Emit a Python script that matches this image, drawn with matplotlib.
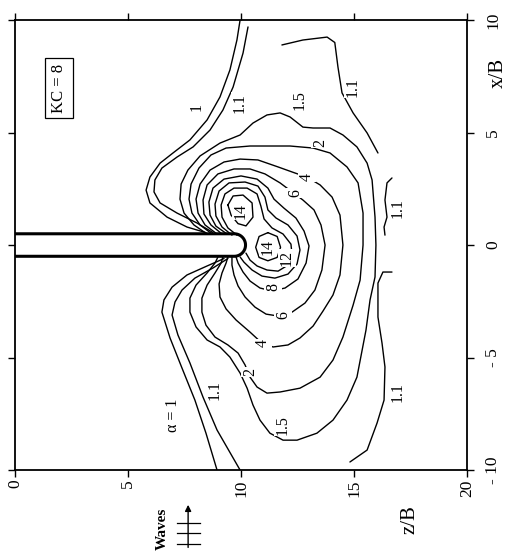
import numpy as np
import matplotlib

matplotlib.use("Agg")

import matplotlib.pyplot as plt

plt.rcParams["font.family"] = ["Liberation Serif", "DejaVu Serif"]

# traced contour lines of the amplification factor, points are (z/B, x/B)
alpha_1_upper = [(9.96, 10.0), (9.82, 9.11), (9.51, 7.78), (9.07, 6.58), (8.5, 5.56), (7.74, 4.67),
                 (6.99, 4.09), (6.42, 3.64), (5.97, 3.02), (5.8, 2.44), (5.97, 1.87), (6.73, 1.24),
                 (7.61, 0.8), (8.45, 0.55)]
alpha_1_lower = [(9.25, -0.6), (8.5, -0.93), (7.61, -1.33), (6.95, -1.87), (6.59, -2.44), (6.5, -2.98),
                 (6.86, -4.13), (7.39, -5.47), (7.96, -6.89), (8.45, -8.36), (8.94, -10.0)]
alpha_11_upper = [(10.31, 9.69), (10.09, 8.53), (9.65, 7.02), (9.2, 6.0), (8.63, 5.11), (7.88, 4.36),
                  (7.17, 3.91), (6.5, 3.42), (6.19, 2.89), (6.15, 2.36), (6.42, 1.87), (7.17, 1.42),
                  (8.05, 0.98), (8.75, 0.56)]
alpha_11_lower = [(9.42, -0.6), (8.76, -1.02), (7.96, -1.47), (7.39, -2.0), (7.08, -2.53), (6.95, -3.11),
                  (7.21, -4.0), (7.74, -5.24), (8.32, -6.76), (8.94, -8.22), (9.96, -10.0)]
alpha_11_top_right = [(11.81, 8.89), (12.74, 9.11), (13.81, 9.24), (14.15, 9.0), (14.29, 7.91), (14.47, 6.76),
                      (14.96, 5.87), (15.58, 4.98), (16.06, 4.09)]
alpha_11_mid_right = [(16.68, 2.98), (16.46, 2.76), (16.37, 2.0), (16.46, 1.24), (16.33, 0.8), (16.37, 0.44)]
alpha_11_low_right = [(16.68, -1.2), (16.28, -1.2), (16.06, -1.69), (16.06, -3.2), (16.24, -4.36),
                      (16.37, -5.42), (16.33, -6.89), (16.02, -7.91), (15.58, -9.11), (14.82, -9.64)]
alpha_15 = [(8.5, 0.49), (7.92, 0.89), (7.48, 1.42), (7.3, 2.04), (7.35, 2.71), (7.65, 3.33), (8.19, 3.96),
            (9.07, 4.53), (9.96, 4.89), (10.53, 5.42), (11.15, 5.78), (11.73, 5.87), (12.17, 5.69),
            (12.74, 5.24), (13.19, 5.2), (13.94, 5.2), (14.51, 4.89), (15.13, 4.36), (15.58, 3.64),
            (15.8, 2.89), (15.93, 1.24), (15.97, 0.0), (15.93, -1.42), (15.71, -2.44), (15.53, -3.78),
            (15.13, -5.87), (14.69, -6.89), (14.07, -7.78), (13.36, -8.36), (12.48, -8.67), (11.86, -8.67),
            (11.28, -8.36), (10.84, -7.78), (10.53, -7.11), (10.27, -6.36), (9.96, -5.69), (9.51, -4.98),
            (9.07, -4.53), (8.5, -4.22), (8.01, -3.64), (7.74, -2.98), (7.74, -2.36), (8.01, -1.78),
            (8.5, -1.24), (8.85, -0.8), (8.98, -0.53)]
alpha_2 = [(8.72, 0.49), (8.19, 0.89), (7.83, 1.42), (7.7, 2.04), (7.79, 2.71), (8.14, 3.42), (8.67, 4.0),
           (9.34, 4.31), (10.4, 4.4), (12.17, 4.4), (13.19, 4.31), (13.94, 4.09), (14.69, 3.47),
           (15.18, 2.76), (15.4, 1.42), (15.4, 0.0), (15.27, -1.56), (14.96, -2.67), (14.51, -4.09),
           (14.07, -5.11), (13.5, -5.87), (12.61, -6.36), (11.73, -6.53), (11.15, -6.58), (10.71, -6.31),
           (10.4, -5.87), (10.18, -5.33), (9.87, -4.8), (9.42, -4.44), (8.85, -4.09), (8.45, -3.56),
           (8.27, -2.98), (8.27, -2.36), (8.5, -1.78), (8.85, -1.24), (9.12, -0.8), (9.2, -0.53)]
alpha_4 = [(8.94, 0.49), (8.41, 0.89), (8.1, 1.42), (8.01, 2.04), (8.19, 2.71), (8.63, 3.33), (9.25, 3.69),
           (9.96, 3.82), (10.75, 3.78), (11.64, 3.47), (12.39, 3.2), (12.92, 3.02), (13.5, 2.67),
           (14.03, 2.13), (14.38, 1.33), (14.51, 0.0), (14.38, -1.33), (14.07, -2.22), (13.63, -2.93),
           (13.19, -3.6), (12.61, -4.13), (12.08, -4.44), (11.42, -4.53), (10.93, -4.36), (10.4, -3.87),
           (9.78, -3.33), (9.34, -2.84), (9.07, -2.31), (9.03, -1.73), (9.16, -1.24), (9.34, -0.8),
           (9.42, -0.53)]
alpha_6 = [(9.16, 0.49), (8.67, 0.89), (8.36, 1.38), (8.32, 2.0), (8.5, 2.67), (8.98, 3.16), (9.69, 3.38),
           (10.4, 3.38), (11.06, 3.16), (11.73, 2.76), (12.26, 2.36), (12.74, 2.0), (13.23, 1.56),
           (13.54, 0.89), (13.72, 0.0), (13.58, -1.11), (13.27, -2.0), (12.83, -2.58), (12.26, -2.98),
           (11.68, -3.16), (11.11, -3.07), (10.62, -2.76), (10.18, -2.31), (9.87, -1.82), (9.69, -1.33),
           (9.6, -0.89), (9.6, -0.53)]
alpha_8 = [(9.38, 0.49), (8.89, 0.84), (8.63, 1.33), (8.58, 1.91), (8.76, 2.53), (9.25, 2.93), (10.0, 3.07),
           (10.71, 2.93), (11.19, 2.53), (11.46, 2.04), (11.9, 1.64), (12.43, 1.2), (12.79, 0.62),
           (13.01, -0.04), (12.88, -0.8), (12.52, -1.51), (11.95, -1.91), (11.37, -2.04), (10.84, -1.91),
           (10.4, -1.6), (10.09, -1.2), (9.87, -0.8), (9.78, -0.53)]
alpha_10 = [(9.6, 0.44), (9.16, 0.8), (8.89, 1.29), (8.85, 1.82), (9.03, 2.4), (9.47, 2.76), (10.18, 2.8),
            (10.75, 2.62), (11.06, 2.13), (11.19, 1.56), (11.55, 1.2), (12.08, 0.89), (12.48, 0.4),
            (12.61, -0.22), (12.48, -0.84), (12.08, -1.29), (11.5, -1.47), (10.93, -1.38), (10.49, -1.11),
            (10.13, -0.76), (9.96, -0.53)]
alpha_12 = [(9.82, 0.44), (9.42, 0.76), (9.16, 1.24), (9.12, 1.78), (9.29, 2.27), (9.69, 2.53), (10.27, 2.53),
            (10.71, 2.27), (10.88, 1.73), (11.02, 1.16), (11.37, 0.76), (11.86, 0.49), (12.21, 0.04),
            (12.26, -0.44), (12.08, -0.89), (11.64, -1.16), (11.15, -1.11), (10.71, -0.93), (10.4, -0.67),
            (10.22, -0.36)]
alpha_14_upper = [(9.42, 1.78), (9.65, 2.18), (10.09, 2.22), (10.49, 1.87), (10.53, 1.24), (10.22, 0.85),
                  (9.87, 0.95), (9.56, 1.33), (9.42, 1.78)]
alpha_14_lower = [(11.19, 0.55), (11.6, 0.38), (11.75, -0.1), (11.6, -0.55), (11.19, -0.7), (10.8, -0.55),
                  (10.65, -0.1), (10.8, 0.38), (11.19, 0.55)]

# contour labels: (text, z/B, x/B)
label_text = ["1", "1.1", "1.5", "1.1", "2", "4", "6", "14", "14", "12", "8", "6", "4", "2", "1.5", "1.1",
              "\u03b1 = 1", "1.1", "1.1"]
label_z = [8.05, 9.96, 12.61, 14.96, 13.5, 12.92, 12.39, 10.0, 11.2, 12.04, 11.42, 11.86, 10.97, 10.4, 11.86,
           8.85, 7.0, 16.95, 16.95]
label_x = [6.13, 6.31, 6.44, 7.02, 4.53, 3.02, 2.31, 1.5, -0.1, -0.58, -1.87, -3.11, -4.36, -5.64, -8.0,
           -6.44, -7.55, 1.64, -6.53]

wall_tip = 10.2
wall_half_width = 0.5

xticks = [0, 5, 10, 15, 20]
yticks = [-10, -5, 0, 5, 10]
ytick_labels = ["- 10", "- 5", "0", "5", "10"]

lines = [alpha_1_upper, alpha_1_lower, alpha_11_upper, alpha_11_lower, alpha_11_top_right,
         alpha_11_mid_right, alpha_11_low_right, alpha_15, alpha_2, alpha_4, alpha_6, alpha_8,
         alpha_10, alpha_12, alpha_14_upper, alpha_14_lower]

fig = plt.figure(figsize=(5.07, 5.55), dpi=100)
ax = fig.add_axes([0.0296, 0.153, 0.8915, 0.811])

for pts in lines:
    zs, xs = zip(*pts)
    ax.plot(zs, xs, color="black", linewidth=1.0, solid_capstyle="round")

# breakwater with a round head
centre = wall_tip - wall_half_width
theta = np.linspace(np.pi / 2, -np.pi / 2, 60)
head_z = centre + wall_half_width * np.cos(theta)
head_x = wall_half_width * np.sin(theta)
wall_z = np.concatenate([[0.0], head_z, [0.0]])
wall_x = np.concatenate([[wall_half_width], head_x, [-wall_half_width]])
ax.plot(wall_z, wall_x, color="black", linewidth=2.2, solid_capstyle="butt", clip_on=False, zorder=5)

for text, z, x in zip(label_text, label_z, label_x):
    ax.text(z, x, text, rotation=90, ha="center", va="center", fontsize=11.5, zorder=6,
            bbox=dict(facecolor="white", edgecolor="none", pad=0.5))

ax.text(1.95, 6.98, "KC = 8", rotation=90, ha="center", va="center", fontsize=12,
        bbox=dict(facecolor="white", edgecolor="black", linewidth=0.9, boxstyle="square,pad=0.35"))

ax.set_xlim(0, 20)
ax.set_ylim(-10, 10)
ax.set_xticks(xticks)
ax.set_yticks(yticks)
ax.set_xticklabels([str(t) for t in xticks], rotation=90, fontsize=12.5)
ax.set_yticklabels(ytick_labels, rotation=90, fontsize=12.5, va="center")
ax.tick_params(direction="out", length=5, width=1.0, top=True, right=True, labelleft=False,
               labelright=True, labelbottom=True)
ax.tick_params(axis="x", pad=2)
ax.tick_params(axis="y", pad=8)
for spine in ax.spines.values():
    spine.set_linewidth(1.3)

ax.text(0.874, -0.111, "z/B", rotation=90, ha="center", va="center", fontsize=15,
        transform=ax.transAxes)
ax.text(1.069, 0.882, "x/B", rotation=90, ha="center", va="center", fontsize=15,
        transform=ax.transAxes)

# wave direction sketch below the plot
ax.text(0.325, -0.131, "Waves", rotation=90, ha="center", va="center", fontsize=11,
        fontweight="bold", transform=ax.transAxes)
ax.annotate("", xy=(0.383, -0.071), xytext=(0.383, -0.178), xycoords="axes fraction",
            arrowprops=dict(arrowstyle="-|>", color="black", linewidth=1.0, mutation_scale=9))
for crest_y in [-0.118, -0.140, -0.164]:
    ax.plot([0.358, 0.409], [crest_y, crest_y], color="black", linewidth=0.9,
            transform=ax.transAxes, clip_on=False)

fig.savefig("out.png", dpi=100)
